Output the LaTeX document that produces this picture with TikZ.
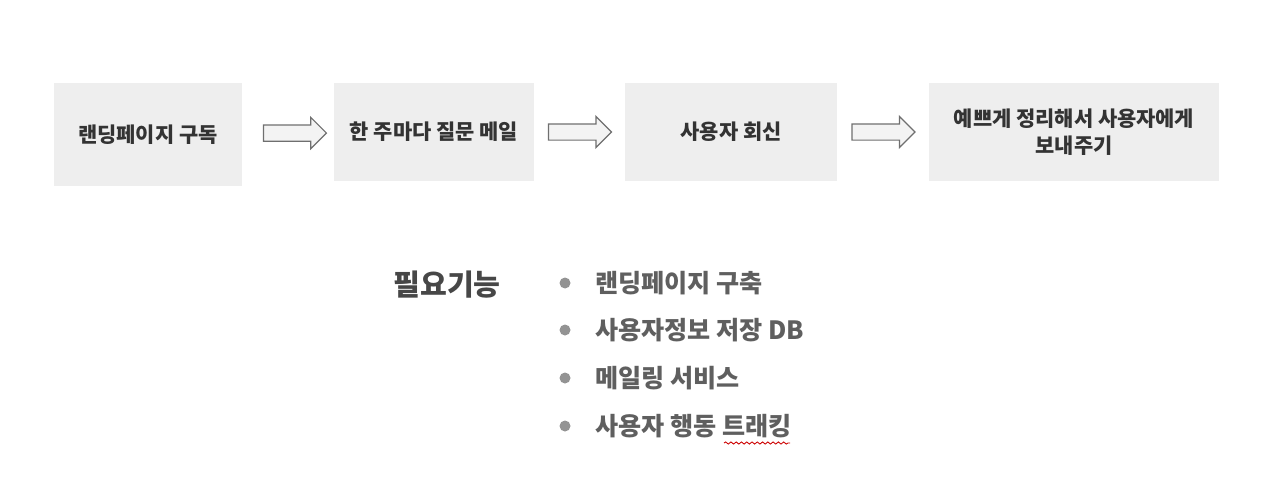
\documentclass[tikz,border=0pt]{standalone}
\usepackage{fontspec}
\setmainfont{Noto Sans CJK KR}
\usetikzlibrary{shapes.arrows,calc,decorations.pathmorphing}
\definecolor{boxgray}{HTML}{EEEEEE}
\definecolor{boxtext}{HTML}{333333}
\definecolor{listtext}{HTML}{5F5F5F}
\definecolor{arrowline}{HTML}{6F6F6F}
\begin{document}
\begin{tikzpicture}[x=0.02cm, y=-0.02cm,
  box/.style={fill=boxgray, align=center, inner sep=0pt, text=boxtext, font=\fontsize{11.9}{15.5}\selectfont\bfseries, minimum height=1.96cm},
  flow/.style={single arrow, draw=arrowline, fill=boxgray!70!white, line width=0.7pt, minimum height=1.26cm, inner xsep=0pt, inner ysep=0.15cm, single arrow head extend=0.15cm, single arrow tip angle=90, xshift=-0.07cm},
  dot/.style={circle, fill=gray!85!white, inner sep=0pt, minimum size=0.22cm},
  item/.style={anchor=west, text=listtext, font=\fontsize{14.3}{17}\selectfont\bfseries}
]
\useasboundingbox (0,0) rectangle (1280,490);
\node[box, minimum width=3.76cm, minimum height=2.06cm] (landing) at (148,134.5) {랜딩페이지 구독};
\node[box, minimum width=4.0cm] (weekly) at (434,132) {한 주마다 질문 메일};
\node[box, minimum width=4.24cm] (reply) at (731,132) {사용자 회신};
\node[box, minimum width=5.8cm] (send) at (1074,132) {예쁘게 정리해서 사용자에게\\보내주기};
\node[flow] (a1) at ($(landing.east)!0.57!(weekly.west)$) {};
\node[flow] (a2) at ($(weekly.east)!0.5!(reply.west)$) {};
\node[flow] (a3) at ($(reply.east)!0.5!(send.west)$) {};
% 필요기능
\node[text=boxtext!90!white, font=\fontsize{16.6}{20}\selectfont\bfseries] (need) at (447,285) {필요기능};
\foreach \y/\name/\txt in {283/f1/랜딩페이지 구축, 330/f2/사용자정보 저장 DB, 378/f3/메일링 서비스, 426/f4/사용자 행동 트래킹}{
  \node[dot] (\name dot) at (565,\y) {};
  \node[item] (\name) at (589,\y) {\txt};
}
\draw[red!80!black, line width=0.5pt, decorate, decoration={snake, amplitude=0.6pt, segment length=3pt}] (724,443) -- (790,443);
\end{tikzpicture}
\end{document}
